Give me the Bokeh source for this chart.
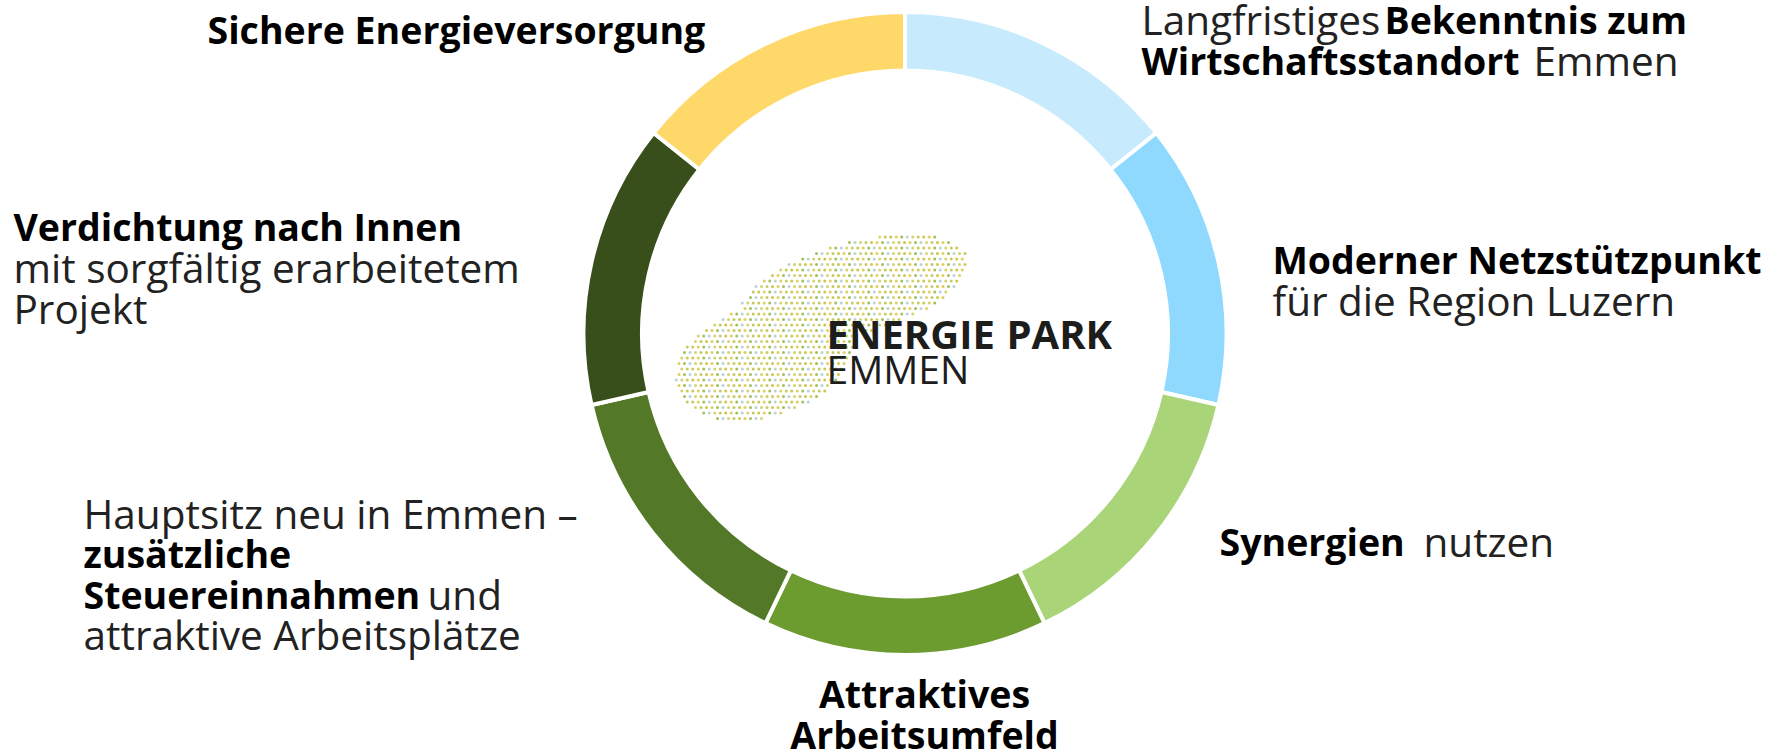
import numpy as np
from bokeh.plotting import figure
from bokeh.models import Range1d, ColumnDataSource
from bokeh.core.properties import value
from bokeh.embed import file_html
from bokeh.resources import INLINE

# ---------------- data ----------------
categories = [
    "Langfristiges Bekenntnis zum Wirtschaftsstandort Emmen",
    "Moderner Netzstützpunkt für die Region Luzern",
    "Synergien nutzen",
    "Attraktives Arbeitsumfeld",
    "Hauptsitz neu in Emmen – zusätzliche Steuereinnahmen und attraktive Arbeitsplätze",
    "Verdichtung nach Innen mit sorgfältig erarbeitetem Projekt",
    "Sichere Energieversorgung",
]
shares = [1, 1, 1, 1, 1, 1, 1]
colors = ["#c7ebfd", "#8ed9fd", "#a9d478", "#6c9c30", "#527828", "#384f1b", "#fed96a"]

# label runs: (text, bold)
label_runs = [
    ("Sichere Energieversorgung", True),
    ("Langfristiges", False),
    ("Bekenntnis zum", True),
    ("Wirtschaftsstandort", True),
    ("Emmen", False),
    ("Moderner Netzstützpunkt", True),
    ("für die Region Luzern", False),
    ("Synergien", True),
    ("nutzen", False),
    ("Attraktives", True),
    ("Arbeitsumfeld", True),
    ("Hauptsitz neu in Emmen –", False),
    ("zusätzliche", True),
    ("Steuereinnahmen", True),
    ("und", False),
    ("attraktive Arbeitsplätze", False),
    ("Verdichtung nach Innen", True),
    ("mit sorgfältig erarbeitetem", False),
    ("Projekt", False),
]
logo_runs = [("ENERGIE", True), ("PARK", True), ("EMMEN", False)]

# ---------------- layout ----------------
PAGE_W, PAGE_H = 1785, 753
def Y(yp):
    return PAGE_H - yp

TXT_DY = 14  # compensation: rendered alphabetic baseline sits lower than requested

# page positions (x, baseline, align) for each run
run_pos = [
    (207, 43, "left"),
    (1141, 33, "left"),
    (1384, 33, "left"),
    (1141, 74, "left"),
    (1533, 74, "left"),
    (1272, 273, "left"),
    (1272, 314, "left"),
    (1219, 555, "left"),
    (1423, 555, "left"),
    (924, 707, "center"),
    (924, 748, "center"),
    (83, 527, "left"),
    (83, 567, "left"),
    (83, 608, "left"),
    (427, 608, "left"),
    (83, 648, "left"),
    (13, 240, "left"),
    (13, 281, "left"),
    (13, 322, "left"),
]
logo_pos = [(826, 347), (1006, 347), (826, 382)]

CX, CY = 904.5, Y(333)
R_OUT, R_IN = 321.5, 263.0

FONT = "Open Sans"
BOLD_SIZE, REG_SIZE = "37.5px", "40.5px"

p = figure(width=PAGE_W, height=PAGE_H, x_range=Range1d(0, PAGE_W), y_range=Range1d(0, PAGE_H),
           output_backend="svg", toolbar_location=None, min_border=0)
p.axis.visible = False
p.grid.visible = False
p.outline_line_color = None
p.background_fill_color = "white"
p.border_fill_color = "white"

# donut
total = float(sum(shares))
cum = np.concatenate([[0.0], np.cumsum(shares)])
start = np.pi / 2 - 2 * np.pi * cum[:-1] / total
end = np.pi / 2 - 2 * np.pi * cum[1:] / total
src = ColumnDataSource(dict(start=start, end=end, color=colors, name=categories))
p.annular_wedge(x=CX, y=CY, inner_radius=R_IN, outer_radius=R_OUT, start_angle="start", end_angle="end",
                direction="clock", fill_color="color", line_color="white", line_width=4, source=src)

# logo dotted texture (deterministic grid inside two tilted lobes)
gx, gy = np.meshgrid(np.arange(640, 1000, 5.5), np.arange(220, 440, 5.5))
gx = gx + (np.arange(gx.shape[0])[:, None] % 2) * 2.75

def lobe(cx, cy, a, b, deg):
    t = np.deg2rad(deg)
    dx, dy = gx - cx, -(gy - cy)
    u = dx * np.cos(t) + dy * np.sin(t)
    v = -dx * np.sin(t) + dy * np.cos(t)
    return (u / a) ** 2 + (v / b) ** 2 <= 1

inside = lobe(853, 288, 118, 46, 15) | lobe(764, 360, 92, 56, 18)
ii = np.arange(gx.size).reshape(gx.shape)
dot_palette = np.array(["#c2bd2e", "#d9c73f", "#93b43e", "#a9cbe0", "#d2ca4c", "#b9c24a"])
dcol = dot_palette[(ii * 7 + (ii // gx.shape[1]) * 3) % 6]
p.scatter(x=gx[inside], y=Y(gy[inside]), size=3.0, color=dcol[inside], alpha=0.85, line_color=None)

# logo text
for (txt, bold), (xp, yp) in zip(logo_runs, logo_pos):
    p.text(x=[xp], y=[Y(yp - TXT_DY)], text=[txt], text_font=value(FONT),
           text_font_size="40px" if bold else "39px",
           text_font_style="bold" if bold else "normal", text_color="#1d1d1b",
           text_baseline="alphabetic", text_align="left")

# labels
for (txt, bold), (xp, yp, al) in zip(label_runs, run_pos):
    p.text(x=[xp], y=[Y(yp - TXT_DY)], text=[txt], text_font=value(FONT),
           text_font_size=BOLD_SIZE if bold else REG_SIZE,
           text_font_style="bold" if bold else "normal",
           text_color="#000000" if bold else "#222222",
           text_baseline="alphabetic", text_align=al)

open("out.html", "w").write(file_html(p, INLINE))
